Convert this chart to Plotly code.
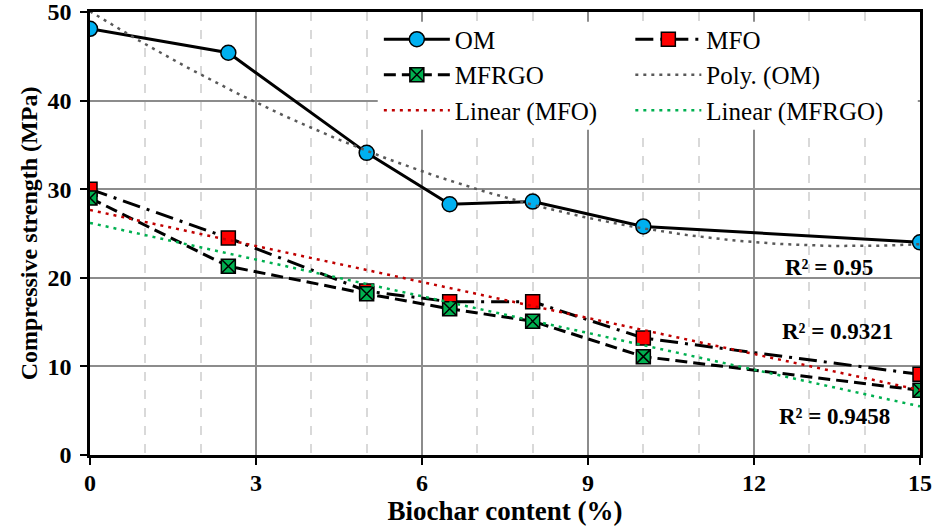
import numpy as np
import plotly.graph_objects as go

# ---- data ----
biochar = [0, 2.5, 5, 6.5, 8, 10, 15]
om = [48.1, 45.4, 34.1, 28.3, 28.6, 25.8, 24.0]
mfo = [30.0, 24.5, 18.5, 17.3, 17.3, 13.2, 9.1]
mfrgo = [29.0, 21.3, 18.2, 16.5, 15.1, 11.1, 7.3]
r2_labels = ["R² = 0.95", "R² = 0.9321", "R² = 0.9458"]
r2_pos_x = [13.36, 13.5, 13.46]
r2_pos_y = [21.2, 13.9, 4.4]
x_ticks = [0, 3, 6, 9, 12, 15]
y_ticks = [0, 10, 20, 30, 40, 50]

FONT = "Liberation Serif"

# trendlines fitted from the data (as Excel does)
xf = np.linspace(0, 15, 151)
poly_om = np.polyval(np.polyfit(biochar, om, 2), xf)
lin_mfo = np.polyval(np.polyfit(biochar, mfo, 1), xf)
lin_mfrgo = np.polyval(np.polyfit(biochar, mfrgo, 1), xf)

fig = go.Figure()

fig.add_trace(go.Scatter(
    x=biochar, y=om, name="OM", mode="lines+markers",
    line=dict(color="black", width=3),
    marker=dict(symbol="circle", size=15, color="#00B0F0", line=dict(color="black", width=1.5)),
    legend="legend", legendgroup="a", legendrank=1))
fig.add_trace(go.Scatter(
    x=biochar, y=mfo, name="MFO", mode="lines+markers",
    line=dict(color="black", width=3, dash="18px,7px,3px,7px"),
    marker=dict(symbol="square", size=14, color="#FF0000", line=dict(color="black", width=1.5)),
    legend="legend2", legendgroup="b", legendrank=1))
fig.add_trace(go.Scatter(
    x=biochar, y=mfrgo, name="MFRGO", mode="lines+markers",
    line=dict(color="black", width=3, dash="12px,6px"),
    marker=dict(symbol="square-x", size=14, color="#00B050", line=dict(color="black", width=1.5)),
    legend="legend", legendgroup="c", legendrank=2))
fig.add_trace(go.Scatter(
    x=xf, y=poly_om, name="Poly. (OM)", mode="lines",
    line=dict(color="#595959", width=2.5, dash="3px,5px"),
    legend="legend2", legendgroup="d", legendrank=2))
fig.add_trace(go.Scatter(
    x=xf, y=lin_mfo, name="Linear (MFO)", mode="lines",
    line=dict(color="#C00000", width=2.5, dash="3px,5px"),
    legend="legend", legendgroup="e", legendrank=3))
fig.add_trace(go.Scatter(
    x=xf, y=lin_mfrgo, name="Linear (MFRGO)", mode="lines",
    line=dict(color="#00B050", width=2.5, dash="3px,5px"),
    legend="legend2", legendgroup="f", legendrank=3))

for t, xx, yy in zip(r2_labels, r2_pos_x, r2_pos_y):
    fig.add_annotation(x=xx, y=yy, text="<b>" + t + "</b>", showarrow=False,
                       font=dict(family=FONT, size=23, color="black"))

# white background box behind the legend (covers gridlines)
fig.add_shape(type="rect", xref="x", yref="y", x0=5.2, x1=14.96, y0=36.7, y1=48.9,
              fillcolor="white", line=dict(width=0), layer="between")

leg_common = dict(font=dict(family=FONT, size=25, color="black"), bgcolor="rgba(0,0,0,0)",
                  itemwidth=66, tracegroupgap=0, xanchor="left", yanchor="top",
                  orientation="v", traceorder="grouped")
fig.update_layout(
    width=937, height=527,
    margin=dict(l=90, r=17, t=12, b=72, autoexpand=False),
    plot_bgcolor="white", paper_bgcolor="white",
    font=dict(family=FONT, color="black"),
    legend=dict(x=0.348, y=0.99, **leg_common),
    legend2=dict(x=0.651, y=0.99, **leg_common),
    xaxis=dict(
        range=[0, 15], tickvals=x_ticks, ticks="outside", ticklen=7, tickwidth=2, tickcolor="black",
        showline=True, linecolor="black", linewidth=2.5, mirror=True,
        showgrid=True, gridcolor="#8C8C8C", gridwidth=1.5,
        minor=dict(dtick=1, showgrid=True, gridcolor="#D9D9D9", gridwidth=1.5, griddash="dash", ticks=""),
        tickfont=dict(family=FONT, size=24, color="black", weight="bold"),
        ticklabeloverflow="allow", ticklabelstandoff=-3,
        title=dict(text="<b>Biochar content (%)</b>", font=dict(family=FONT, size=27, color="black"), standoff=3),
        automargin=True, zeroline=False),
    yaxis=dict(
        range=[0, 50], tickvals=y_ticks, ticks="outside", ticklen=7, tickwidth=2, tickcolor="black",
        showline=True, linecolor="black", linewidth=2.5, mirror=True,
        showgrid=True, gridcolor="#8C8C8C", gridwidth=1.5,
        tickfont=dict(family=FONT, size=24, color="black", weight="bold"),
        ticklabeloverflow="allow", ticklabelstandoff=4,
        title=dict(text="<b>Compressive strength (MPa)</b>", font=dict(family=FONT, size=24, color="black"), standoff=4),
        automargin=True, zeroline=False),
)

fig.write_html("out.html", config={"displayModeBar": False},
               post_script="document.body.style.margin='0';")
